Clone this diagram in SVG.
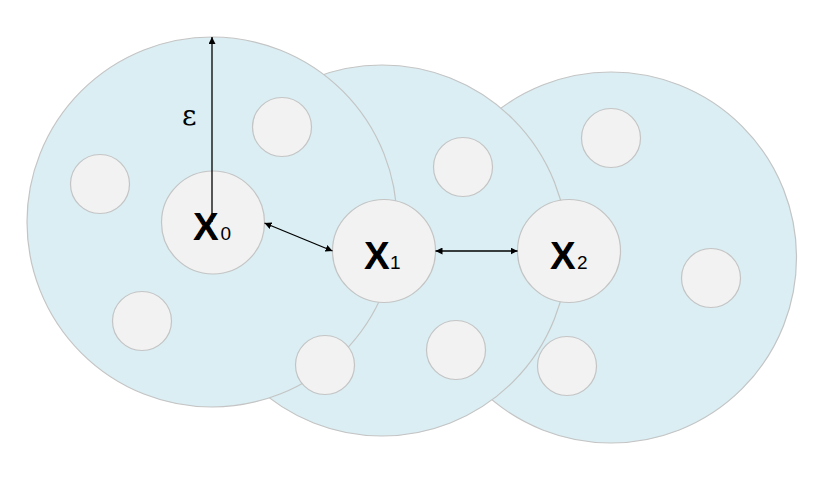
<svg xmlns="http://www.w3.org/2000/svg" width="819" height="481" viewBox="0 0 819 481">
<defs>
<style>
.big{fill:#DAEEF3;stroke:#C4C4C4;stroke-width:1.2}
.sm{fill:#F2F2F2;stroke:#C4C4C4;stroke-width:1.2}
.ln{stroke:#000;stroke-width:1.3;fill:none}
.xl{font-family:"Liberation Sans","Arial",sans-serif;font-weight:bold;font-size:38.5px;fill:#000}
.sub{font-family:"Liberation Sans","Arial",sans-serif;font-weight:normal;font-size:19px;fill:#000}
.eps{font-family:"DejaVu Serif","Liberation Serif",serif;font-size:28px;fill:#000}
</style>
<marker id="ah" viewBox="0 0 10 10" refX="10" refY="5" markerWidth="7" markerHeight="7" markerUnits="userSpaceOnUse" orient="auto-start-reverse">
<path d="M0,0 L10,5 L0,10 z" fill="#000"/>
</marker>
</defs>
<g id="region2"><circle class="big" cx="611" cy="257.5" r="185.5"/></g>
<g id="region1"><circle class="big" cx="382" cy="250.5" r="185.5"/></g>
<g id="region0"><circle class="big" cx="212" cy="222" r="185"/></g>
<g id="points">
<circle class="sm" cx="282" cy="127" r="29.5"/>
<circle class="sm" cx="100" cy="184" r="29.5"/>
<circle class="sm" cx="142" cy="321" r="29.5"/>
<circle class="sm" cx="325" cy="365" r="29.5"/>
<circle class="sm" cx="456" cy="350" r="29.5"/>
<circle class="sm" cx="567" cy="366" r="29.5"/>
<circle class="sm" cx="463" cy="167" r="29.5"/>
<circle class="sm" cx="611" cy="138" r="29.5"/>
<circle class="sm" cx="711" cy="278" r="29.5"/>
</g>
<g id="x0"><circle class="sm" cx="213" cy="222.5" r="51.5"/></g>
<g id="x1"><circle class="sm" cx="384" cy="251" r="51.5"/></g>
<g id="x2"><circle class="sm" cx="569" cy="251" r="51.5"/></g>
<g id="connectors">
<line class="ln" x1="212" y1="222" x2="212" y2="37" marker-end="url(#ah)"/>
<line class="ln" x1="264.5" y1="223" x2="332.5" y2="251" marker-start="url(#ah)" marker-end="url(#ah)"/>
<line class="ln" x1="435.5" y1="251" x2="517.5" y2="251" marker-start="url(#ah)" marker-end="url(#ah)"/>
</g>
<g id="labels">
<text class="eps" x="182" y="124.5">ε</text>
<text class="xl" x="193" y="240">X</text>
<text class="sub" x="220.5" y="240">0</text>
<text class="xl" x="364" y="268.5">X</text>
<text class="sub" x="390" y="268.5">1</text>
<text class="xl" x="550" y="268.5">X</text>
<text class="sub" x="577" y="268.5">2</text>
</g>
</svg>
